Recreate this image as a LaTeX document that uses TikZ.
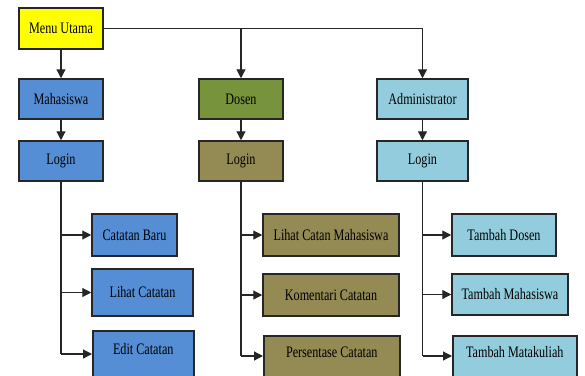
\documentclass[tikz,border=0pt]{standalone}
\usepackage{fontspec}
\setmainfont{Liberation Serif}[FakeStretch=0.76]
\usetikzlibrary{arrows.meta}
\definecolor{cyellow}{HTML}{FFFF00}
\definecolor{cblue}{HTML}{558ED5}
\definecolor{cgreen}{HTML}{77933C}
\definecolor{colive}{HTML}{948A54}
\definecolor{ccyan}{HTML}{93CDDD}
\definecolor{cline}{HTML}{262626}
\tikzset{
  box/.style={draw=cline, line width=1.5pt, inner sep=0pt, font=\fontsize{16}{19}\selectfont, text=black},
  lbl/.style={inner sep=0pt, font=\fontsize{16}{19}\selectfont, text=black},
  trunk/.style={draw=cline, line width=1.2pt},
  arr/.style={draw=cline, line width=1.2pt, -{Triangle[length=9pt,width=9pt]}},
}
\begin{document}
\begin{tikzpicture}[x=1pt,y=-1pt]
\clip (0,0) rectangle (585,375);
\fill[white] (0,0) rectangle (585,375);
% top level
\node[box, fill=cyellow, minimum width=84, minimum height=41] (menu) at (61,28.5) {Menu Utama};
\node[box, fill=cblue, minimum width=84, minimum height=40] (mhs) at (61,99) {Mahasiswa};
\node[box, fill=cblue, minimum width=84, minimum height=40] (loginM) at (61,161) {Login};
\node[box, fill=cgreen, minimum width=84, minimum height=40] (dosen) at (241,99) {Dosen};
\node[box, fill=colive, minimum width=84, minimum height=40] (loginD) at (241,161) {Login};
\node[box, fill=ccyan, minimum width=91, minimum height=40] (admin) at (422.5,99) {Administrator};
\node[box, fill=ccyan, minimum width=91, minimum height=40] (loginA) at (422.5,161) {Login};
% mahasiswa children
\node[box, fill=cblue, minimum width=85, minimum height=42] (baru) at (134.5,235) {Catatan Baru};
\node[box, fill=cblue, minimum width=101, minimum height=47] (lihat) at (142.5,292.5) {Lihat Catatan};
\node[box, fill=cblue, minimum width=101, minimum height=60, anchor=north west] (edit) at (92,330) {};
\node[lbl] (editT) at (edit.north |- 0,349) {Edit Catatan};
% dosen children
\node[box, fill=colive, minimum width=136, minimum height=42] (lcm) at (331,235) {Lihat Catan Mahasiswa};
\node[box, fill=colive, minimum width=136, minimum height=42] (kom) at (331,295) {Komentari Catatan};
\node[box, fill=colive, minimum width=136, minimum height=60, anchor=north west] (pers) at (263,335) {};
\node[lbl] (persT) at (pers.north |- 0,352) {Persentase Catatan};
% admin children
\node[box, fill=ccyan, minimum width=104, minimum height=42] (tdos) at (504,235) {Tambah Dosen};
\node[box, fill=ccyan, minimum width=116, minimum height=41] (tmhs) at (510,294.5) {Tambah Mahasiswa};
\node[box, fill=ccyan, minimum width=124, minimum height=60, anchor=north west] (tmk) at (452,335) {};
\node[lbl] (tmkT) at (tmk.north |- 0,352) {Tambah Matakuliah};
% entry points on bottom boxes
\coordinate (editIn) at (edit.west |- 0,354);
\coordinate (persIn) at (pers.west |- 0,356);
\coordinate (tmkIn) at (tmk.west |- 0,356);
% connectors
\draw[arr] (menu.south) -- (mhs.north);
\draw[arr] (menu.east) -| (admin.north);
\draw[arr] (menu.east -| dosen.north) -- (dosen.north);
\draw[arr] (mhs.south) -- (loginM.north);
\draw[arr] (dosen.south) -- (loginD.north);
\draw[arr] (admin.south) -- (loginA.north);
\draw[trunk] (loginM.south) -- (loginM.south |- editIn);
\draw[arr] (loginM.south |- baru.west) -- (baru.west);
\draw[arr] (loginM.south |- lihat.west) -- (lihat.west);
\draw[arr] (loginM.south |- editIn) -- (editIn);
\draw[trunk] (loginD.south) -- (loginD.south |- persIn);
\draw[arr] (loginD.south |- lcm.west) -- (lcm.west);
\draw[arr] (loginD.south |- kom.west) -- (kom.west);
\draw[arr] (loginD.south |- persIn) -- (persIn);
\draw[trunk] (loginA.south) -- (loginA.south |- tmkIn);
\draw[arr] (loginA.south |- tdos.west) -- (tdos.west);
\draw[arr] (loginA.south |- tmhs.west) -- (tmhs.west);
\draw[arr] (loginA.south |- tmkIn) -- (tmkIn);
\end{tikzpicture}
\end{document}
